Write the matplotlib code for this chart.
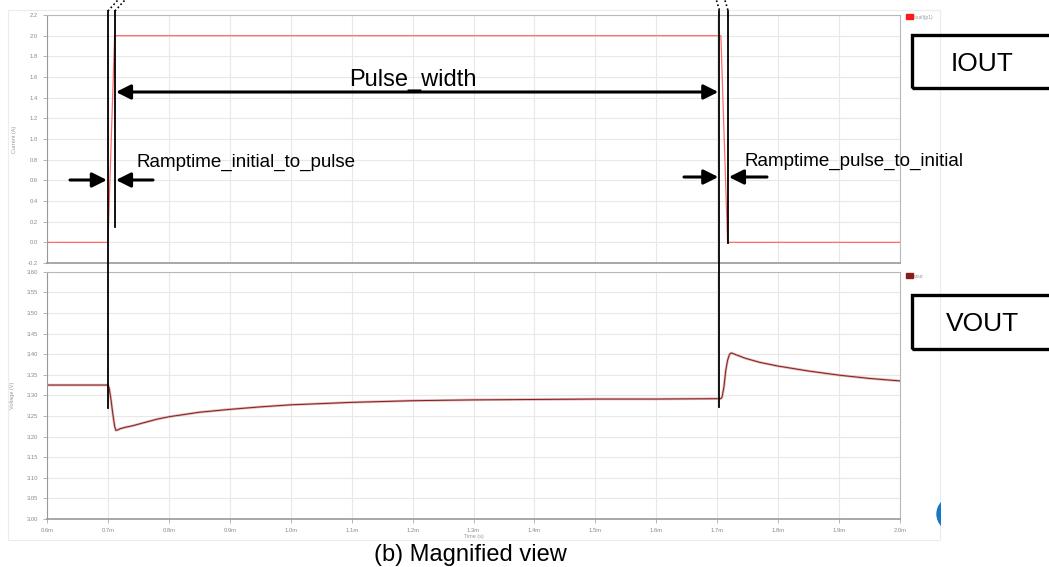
import numpy as np
import matplotlib.pyplot as plt
from matplotlib.lines import Line2D
from matplotlib.patches import Rectangle, Circle, FancyArrowPatch
from matplotlib.transforms import IdentityTransform

# Zeitachse in ms
t_ticks = [0.6, 0.7, 0.8, 0.9, 1.0, 1.1, 1.2, 1.3, 1.4, 1.5, 1.6, 1.7, 1.8, 1.9, 2.0]
i_ticks = [-0.2, 0.0, 0.2, 0.4, 0.6, 0.8, 1.0, 1.2, 1.4, 1.6, 1.8, 2.0, 2.2]
v_ticks = [3.00, 3.05, 3.10, 3.15, 3.20, 3.25, 3.30, 3.35, 3.40, 3.45, 3.50, 3.55, 3.60]

# Strompuls iout
t_i = [0.6, 0.7, 0.711, 1.706, 1.717, 2.0]
i_out = [0.0, 0.0, 2.0, 2.0, 0.0, 0.0]

# Ausgangsspannung vout
t_v = [0.6, 0.7, 0.702, 0.705, 0.708, 0.711, 0.713, 0.716, 0.72, 0.73, 0.74,
       0.76, 0.78, 0.8, 0.85, 0.9, 0.95, 1.0, 1.1, 1.2, 1.3, 1.4, 1.5, 1.6,
       1.706, 1.708, 1.711, 1.714, 1.717, 1.72, 1.723, 1.73, 1.746, 1.77,
       1.8, 1.85, 1.9, 1.95, 2.0]
v_out = [3.325, 3.325, 3.318, 3.29, 3.255, 3.225, 3.215, 3.216, 3.219, 3.223,
         3.226, 3.234, 3.242, 3.248, 3.259, 3.266, 3.272, 3.277, 3.283, 3.287,
         3.289, 3.290, 3.291, 3.291, 3.292, 3.296, 3.32, 3.36, 3.385, 3.399,
         3.403, 3.399, 3.390, 3.380, 3.371, 3.359, 3.349, 3.341, 3.335]

# Markierungen (ms)
t_marks = [0.7, 0.7115, 1.7035, 1.7175]

W, H = 1049, 567
fig = plt.figure(figsize=(W / 100, H / 100), dpi=100)
plt.rcParams['font.family'] = ['Liberation Sans', 'DejaVu Sans']


def fx(x):
    return x / W


def fy(y):
    return 1 - y / H


# heller Rahmen ums Diagramm
fig.add_artist(Rectangle((fx(8), fy(540)), fx(932), (540 - 10) / H,
                         transform=fig.transFigure, fill=False,
                         ec='#ececec', lw=0.8))

ax1 = fig.add_axes([fx(47), fy(263), fx(853), (263 - 15) / H])
ax2 = fig.add_axes([fx(47), fy(519), fx(853), (519 - 271.7) / H])

tick_kw = dict(labelsize=4.2, labelcolor='#8a8a8a', color='#aaaaaa',
               length=3, width=0.6)
for ax in (ax1, ax2):
    ax.set_xlim(0.6, 2.0)
    ax.set_xticks(t_ticks)
    ax.grid(True, color='#e8e8e8', lw=0.8)
    ax.set_axisbelow(True)
    for s in ax.spines.values():
        s.set_color('#b8b8b8')
        s.set_linewidth(0.8)
    ax.spines['left'].set_color('#999999')
    ax.spines['bottom'].set_color('#999999')
    ax.spines['bottom'].set_linewidth(1.2)
    ax.tick_params(**tick_kw)

ax1.plot(t_i, i_out, color='#ff6b6b', lw=0.9)
ax1.set_ylim(-0.2, 2.2)
ax1.set_yticks(i_ticks)
ax1.set_yticklabels([f'{v:.1f}' for v in i_ticks])
ax1.set_xticklabels([])
ax1.tick_params(axis='x', length=0)
ax1.set_ylabel('Current (A)', fontsize=4, color='#999999', labelpad=8)

ax2.plot(t_v, v_out, color='#e2b0b0', lw=1.8)
ax2.plot(t_v, v_out, color='#7f2020', lw=0.7)
ax2.set_ylim(3.0, 3.6)
ax2.set_yticks(v_ticks)
ax2.set_yticklabels([f'{v:.2f}' for v in v_ticks])
ax2.set_xticklabels([f'{v:.1f}m' for v in t_ticks])
ax2.set_ylabel('Voltage (V)', fontsize=4, color='#999999', labelpad=8)
ax2.set_xlabel('Time (s)', fontsize=4, color='#999999', labelpad=1)

# Legenden
fig.add_artist(Rectangle((fx(906), fy(19)), fx(7), 5 / H,
                         transform=fig.transFigure, color='#ff1a1a'))
fig.text(fx(914), fy(17), 'iout/i(p1)', fontsize=3.6, color='#999999',
         va='center')
fig.add_artist(Rectangle((fx(906), fy(278)), fx(7), 5 / H,
                         transform=fig.transFigure, color='#8b1c1c'))
fig.text(fx(914), fy(276), 'vout', fontsize=3.6, color='#999999',
         va='center')

# Beschriftungskästen
for y0, y1, lab in ((35, 88, 'IOUT'), (294.5, 348.5, 'VOUT')):
    fig.add_artist(Rectangle((fx(912), fy(y1)), fx(150), (y1 - y0) / H,
                             transform=fig.transFigure, fill=False,
                             ec='black', lw=2.4))
    fig.text(fx(982.5), fy((y0 + y1) / 2 + 9.5), lab, fontsize=19,
             ha='center', va='baseline')


# senkrechte Markierungslinien
def xpx(t):
    return ax1.transData.transform((t, 0))[0]


x_m = [xpx(t) for t in t_marks]
line_ends = [408, 227, 407, 243]
for x, y_end in zip(x_m, line_ends):
    fig.add_artist(Line2D([fx(x), fx(x)], [fy(11), fy(y_end)],
                          transform=fig.transFigure, color='black', lw=1.3))

# gepunktete Fortsetzungen oben
for x in x_m[:2]:
    fig.add_artist(Line2D([fx(x), fx(x + 10)], [fy(11), fy(0)],
                          transform=fig.transFigure, color='black', lw=1.2,
                          ls=(0, (1, 1.5))))
for x in x_m[2:]:
    fig.add_artist(Line2D([fx(x), fx(x - 3)], [fy(10), fy(0)],
                          transform=fig.transFigure, color='black', lw=1.2,
                          ls=(0, (1, 1.5))))


def arrow(x0, x1, y, style='-|>'):
    fig.add_artist(FancyArrowPatch(
        (fx(x0), fy(y)), (fx(x1), fy(y)), transform=fig.transFigure,
        arrowstyle=style, mutation_scale=22, lw=2.2, color='black',
        shrinkA=0, shrinkB=0))


# Pulsbreite
arrow(x_m[1] + 1, x_m[2] - 1, 92, '<|-|>')
fig.text(fx(413), fy(86), 'Pulse_width', fontsize=17, ha='center',
         va='baseline')

# Rampenzeiten
arrow(70, x_m[0] - 1, 180)
arrow(153, x_m[1] + 1, 180)
fig.text(fx(137), fy(166.5), 'Ramptime_initial_to_pulse', fontsize=13.5,
         va='baseline')
arrow(684, x_m[2] - 1, 177)
arrow(767, x_m[3] + 1, 177)
fig.text(fx(745), fy(166), 'Ramptime_pulse_to_initial', fontsize=13.5,
         va='baseline')

fig.text(fx(470), fy(561.5), '(b) Magnified view', fontsize=17,
         ha='center', va='baseline')

# angeschnittener blauer Knopf rechts unten
knopf = Circle((954, H - 514), 17, transform=IdentityTransform(),
               color='#1677c4')
fig.add_artist(knopf)
clip = Rectangle((0, 0), 941, H, transform=IdentityTransform())
knopf.set_clip_path(clip)

fig.savefig('out.png', dpi=100)
